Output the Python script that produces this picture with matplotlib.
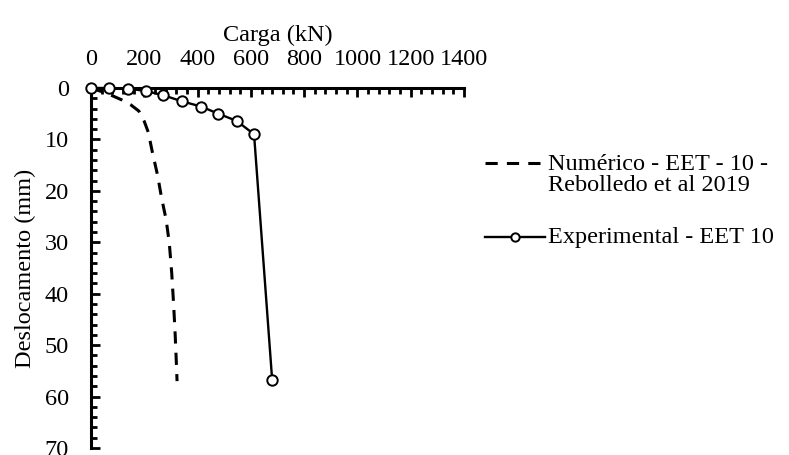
import matplotlib
matplotlib.use("Agg")
import matplotlib.pyplot as plt
from matplotlib.lines import Line2D
from matplotlib.ticker import MultipleLocator

# load (kN) vs displacement (mm)
num_x = [0, 40, 80, 115, 150, 180, 200, 215, 230, 250, 265, 282, 294, 303, 310, 316, 320, 323]
num_y = [0, 0.7, 1.5, 2.3, 3.3, 4.5, 6.5, 8.6, 12.4, 17, 21.4, 25.6, 30.2, 36, 42, 48, 53, 57]

exp_x = [0, 68, 140, 206, 271, 342, 413, 478, 547, 612, 680]
exp_y = [0, 0, 0.1, 0.6, 1.4, 2.6, 3.6, 5.0, 6.4, 9.0, 56.8]

num_label = "Numérico - EET - 10 -\nRebolledo et al 2019"
exp_label = "Experimental - EET 10"

plt.rcParams['font.family'] = ['Liberation Serif', 'DejaVu Serif']
FS = 17.5

W, H = 789, 455
fig = plt.figure(figsize=(W / 100, H / 100), dpi=100)
ax = fig.add_axes([91 / W, 1 - 448 / H, (464 - 91) / W, (448 - 88) / H])

ax.plot(num_x, num_y, color='black', lw=2.2, dashes=(4.0, 3.0), solid_capstyle='butt')
ax.plot(exp_x, exp_y, color='black', lw=1.7, marker='o', ms=7.5,
        mfc='white', mec='black', mew=1.4, clip_on=False, zorder=5)

ax.set_xlim(0, 1400)
ax.set_ylim(70, 0)
ax.xaxis.set_major_locator(MultipleLocator(200))
ax.xaxis.set_minor_locator(MultipleLocator(40))
ax.yaxis.set_major_locator(MultipleLocator(10))
ax.yaxis.set_minor_locator(MultipleLocator(2))
ax.xaxis.tick_top()
ax.xaxis.set_label_position('top')

for s in ['right', 'bottom']:
    ax.spines[s].set_visible(False)
for s in ['left', 'top']:
    ax.spines[s].set_linewidth(2.2)

ax.tick_params(which='major', direction='in', length=6.5, width=2, labelsize=FS)
ax.tick_params(which='minor', direction='in', length=4.5, width=2)
ax.tick_params(axis='x', which='major', pad=13)
ax.tick_params(axis='y', which='major', pad=16)

ax.set_xlabel('Carga (kN)', fontsize=FS, labelpad=6)
ax.set_ylabel('Deslocamento (mm)', fontsize=FS, labelpad=6)

# legend drawn by hand so the handle lines up with the first text line
def fx(px):
    return px / W

def fy(py):
    return 1 - py / H

fig.add_artist(Line2D([fx(485), fx(545)], [fy(163), fy(163)], color='black',
                      lw=2.2, dashes=(4.0, 3.0), transform=fig.transFigure))
fig.text(fx(548), fy(175), num_label, fontsize=FS, va='center', ha='left', linespacing=1.04)

fig.add_artist(Line2D([fx(485), fx(545)], [fy(237), fy(237)], color='black',
                      lw=1.7, transform=fig.transFigure))
fig.add_artist(Line2D([fx(515)], [fy(237)], color='black', marker='o', ms=6,
                      mfc='white', mec='black', mew=1.4, transform=fig.transFigure))
fig.text(fx(548), fy(237), exp_label, fontsize=FS, va='center', ha='left')

fig.savefig('out.png', dpi=100)
